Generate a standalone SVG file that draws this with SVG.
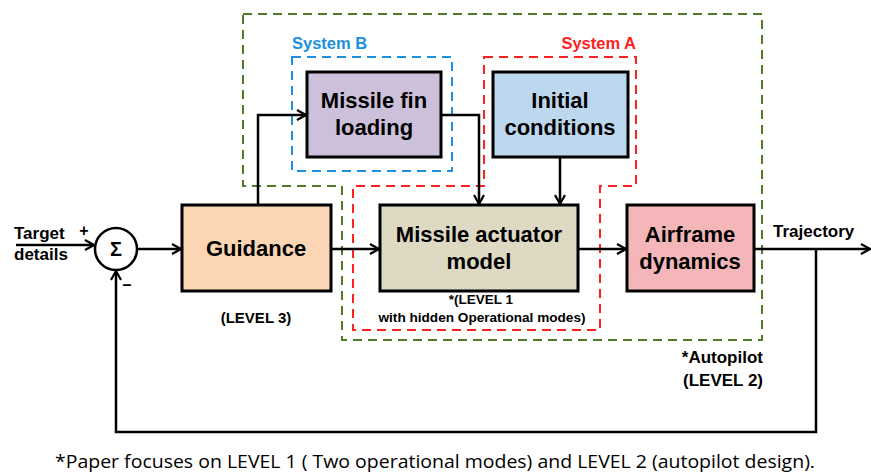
<svg xmlns="http://www.w3.org/2000/svg" width="871" height="475" viewBox="0 0 871 475">
<defs>
<marker id="arr" viewBox="0 0 12 12" refX="11" refY="6" markerWidth="12" markerHeight="12" markerUnits="userSpaceOnUse" orient="auto">
<path d="M2,1 L11,6 L2,11" fill="none" stroke="#000" stroke-width="2.2"/>
</marker>
</defs>
<style>
.box{stroke:#000;stroke-width:3}
.t{font-family:"Liberation Sans",Arial,sans-serif;font-weight:bold;fill:#000}
.bt{font-size:22px;text-anchor:middle}
.ln{fill:none;stroke:#000;stroke-width:2.5}
.dash{fill:none;stroke-width:2;stroke-dasharray:9,6}
</style>
<g id="regions">
<path class="dash" stroke="#4F7A28" d="M243,14 H762 V340 H342 V186 H243 Z"/>
<rect class="dash" stroke="#1E8FE0" x="292" y="57" width="160" height="114"/>
<path class="dash" stroke="#FF2020" d="M484,57 H636 V186 H600 V330 H353 V186 H484 Z"/>
<text class="t" x="292" y="49" font-size="16.5" style="fill:#1E8FE0">System B</text>
<text class="t" x="636" y="49" font-size="16.5" text-anchor="end" style="fill:#FF2020">System A</text>
<text class="t" x="763" y="363" font-size="17" text-anchor="end">*Autopilot</text>
<text class="t" x="763" y="386" font-size="17" text-anchor="end">(LEVEL 2)</text>
</g>
<g id="connectors">
<line class="ln" x1="16" y1="245" x2="94" y2="245" marker-end="url(#arr)"/>
<line class="ln" x1="137" y1="249" x2="181" y2="249" marker-end="url(#arr)"/>
<line class="ln" x1="331" y1="249" x2="379" y2="249" marker-end="url(#arr)"/>
<line class="ln" x1="578" y1="249" x2="626" y2="249" marker-end="url(#arr)"/>
<line class="ln" x1="754" y1="249" x2="870" y2="249" marker-end="url(#arr)"/>
<polyline class="ln" points="816,249 816,432 116,432 116,271" marker-end="url(#arr)"/>
<polyline class="ln" points="258,205 258,115 306,115" marker-end="url(#arr)"/>
<polyline class="ln" points="441,115 479,115 479,204" marker-end="url(#arr)"/>
<line class="ln" x1="560" y1="157" x2="560" y2="204" marker-end="url(#arr)"/>
</g>
<g id="sum">
<circle cx="116" cy="249" r="21" fill="#fff" stroke="#000" stroke-width="2.5"/>
<text class="t" x="116" y="256" font-size="20" text-anchor="middle">Σ</text>
<text class="t" x="84" y="236" font-size="16" text-anchor="middle">+</text>
<text class="t" x="127" y="290" font-size="16" text-anchor="middle">–</text>
</g>
<g id="target">
<text class="t" x="14" y="239" font-size="17">Target</text>
<text class="t" x="14" y="260" font-size="17">details</text>
</g>
<g id="fin">
<rect class="box" x="307" y="72" width="134" height="85" fill="#CCC0DA"/>
<text class="t bt" x="374" y="108">Missile fin</text>
<text class="t bt" x="374" y="135">loading</text>
</g>
<g id="initial">
<rect class="box" x="493" y="72" width="135" height="85" fill="#BDD7EE"/>
<text class="t bt" x="560" y="108">Initial</text>
<text class="t bt" x="560" y="135">conditions</text>
</g>
<g id="guidance">
<rect class="box" x="182" y="205" width="149" height="86" fill="#FCD5B4"/>
<text class="t bt" x="256" y="256">Guidance</text>
<text class="t" x="256" y="323" font-size="15" text-anchor="middle">(LEVEL 3)</text>
</g>
<g id="actuator">
<rect class="box" x="380" y="205" width="198" height="86" fill="#DDD9C3"/>
<text class="t bt" x="479" y="242">Missile actuator</text>
<text class="t bt" x="479" y="269">model</text>
<text class="t" x="481" y="304" font-size="13.5" text-anchor="middle">*(LEVEL 1</text>
<text class="t" x="482" y="322" font-size="13.5" text-anchor="middle" textLength="207" lengthAdjust="spacingAndGlyphs">with hidden Operational modes)</text>
</g>
<g id="airframe">
<rect class="box" x="627" y="205" width="127" height="86" fill="#F4B6B8"/>
<text class="t bt" x="690" y="242">Airframe</text>
<text class="t bt" x="690" y="269">dynamics</text>
</g>
<g id="trajectory">
<text class="t" x="773" y="237" font-size="17">Trajectory</text>
</g>
<text x="435" y="468" font-family="'Open Sans','Liberation Sans',sans-serif" font-size="18" text-anchor="middle" textLength="760" lengthAdjust="spacingAndGlyphs">*Paper focuses on LEVEL 1 ( Two operational modes) and LEVEL 2 (autopilot design).</text>
</svg>
